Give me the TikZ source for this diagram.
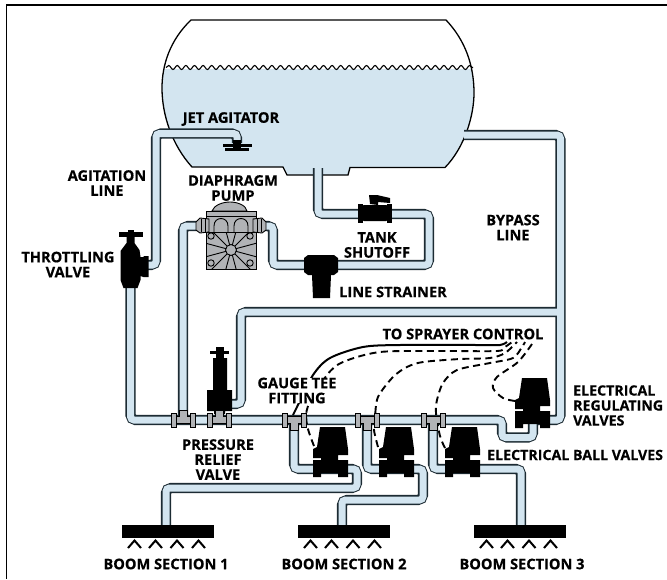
\documentclass[tikz,border=0pt]{standalone}
\usepackage{fontspec}
\setmainfont[BoldFeatures={FakeBold=0.4}]{Open Sans}
\usetikzlibrary{decorations.pathmorphing}
\definecolor{pipeblue}{HTML}{D3E5F0}
\definecolor{pipeline}{HTML}{1C2B33}
\definecolor{pumpgray}{HTML}{B1B3B6}
\tikzset{
    pipeedge/.style={draw=pipeline, line width=10.2pt, rounded corners=5pt},
    pipecore/.style={draw=pipeblue, line width=7pt, rounded corners=3.5pt},
    lab/.style={font=\fontsize{14.6}{15}\selectfont\bfseries, inner sep=0pt, align=center},
    wire/.style={line width=1.9pt, dash pattern=on 7pt off 4.5pt},
    wiresolid/.style={line width=2pt},
    boombar/.style={fill=black, minimum width=92pt, minimum height=13pt, inner sep=0pt},
    nozzle/.style={line width=2pt},
    jetagitator/.pic={
        \fill (-4,-3) rectangle (4,1);
        \fill (-14,1) rectangle (15,3.5);
        \fill (-12,5) rectangle (12,7.5);
        \fill (-4,3) rectangle (4,5);
    },
    gaugetee/.pic={
        \draw[fill=pumpgray, line width=0.8pt] (-8,-3.5) -- (8,-3.5) -- (8,3.5) -- (4,3.5) -- (4,10) -- (-4,10) -- (-4,3.5) -- (-8,3.5) -- cycle;
        \foreach \fx in {-12,7}
            \draw[fill=pumpgray, line width=0.8pt] (\fx,-7) rectangle (\fx+5,7);
    },
    ballvalve/.pic={
        \fill (-11,-42) -- (14,-42) -- (17,-20) -- (17,-14) -- (7,-14) -- (7,-9) -- (17,-9) -- (17,8) -- (7,8) -- (7,4) -- (-10,4) -- (-10,8) -- (-18,8) -- (-18,-9) -- (-10,-9) -- (-10,-11) -- (-18,-11) -- (-18,-20) -- (-14,-22) -- cycle;
    },
    throttlevalve/.pic={
        \fill (-12,-33) rectangle (12,-28);
        \fill (-3,-35) rectangle (3,-28);
        \fill (-4,-28) -- (4,-28) -- (4,-22) -- (9,-15) -- (10,-8) -- (13,-8) -- (13,-9) -- (18,-9) -- (18,12) -- (13,12) -- (10,11) -- (10,15) -- (7,23) -- (-7,23) -- (-10,15) -- (-10,-14) -- (-4,-22) -- cycle;
    },
    reliefvalve/.pic={
        \fill (-9,-53) rectangle (10,-50.5);
        \fill (-3,-57) rectangle (5,-46);
        \fill (-6,-46) -- (8,-46) -- (8,-14) -- (13,-14) -- (13,7) -- (6,7) -- (6,10) -- (-5,10) -- (-5,7) -- (-12,7) -- (-12,-14) -- (-6,-14) -- cycle;
    },
    shutoffvalve/.pic={
        \fill (-17,-10) rectangle (-12,9);
        \fill (12,-10) rectangle (17,9);
        \fill[rounded corners=2pt] (-13,-9) rectangle (13,7);
        \fill (-5,-10) -- (-6,-19) -- (2,-19) -- (15,-16) -- (15,-11) -- (3,-12) -- (3,-9) -- cycle;
    },
    linestrainer/.pic={
        \fill (-13,-10) -- (13,-10) -- (17,-7) -- (17,7) -- (13,10) -- (10,10) -- (9,33) -- (-8,33) -- (-9,10) -- (-13,10) -- (-17,7) -- (-17,-7) -- cycle;
    },
    diaphragmpump/.pic={
        \draw[fill=pumpgray, line width=0.9pt] (-19,-39) .. controls (-17,-45) and (-8,-48) .. (-1,-48) .. controls (6,-48) and (15,-45) .. (16,-39) -- cycle;
        \draw[fill=pumpgray, line width=0.9pt] (-25,-39) rectangle (25,-34);
        \draw[fill=pumpgray, line width=0.9pt] (-25,-34) rectangle (25,19);
        \begin{scope}
            \clip (-25,-18) rectangle (25,19);
            \foreach \spoke in {0,30,...,330}
                \draw[line width=0.9pt] (0,0) -- ++(\spoke+15:40pt);
        \end{scope}
        \foreach \archx in {-17,3}
            \draw[line width=0.9pt] (\archx,-18) -- (\archx,-24) .. controls (\archx,-34) and (\archx+14,-34) .. (\archx+14,-24) -- (\archx+14,-18);
        \draw[line width=0.9pt] (-25,-18) -- (25,-18);
        \foreach \boltx/\bolty in {-20/-14,19/-14,-20/13,19/13}
            \draw[fill=pumpgray, line width=0.9pt] (\boltx,\bolty) circle (3.2pt);
        \draw[fill=pumpgray, line width=0.9pt] (0,0) circle (5.5pt);
        \foreach \fitx/\fitd in {-22/-1,22/1} {
            \draw[fill=pumpgray, line width=0.9pt] (\fitx,-31) -- (\fitx+\fitd*9,-32) -- (\fitx+\fitd*13,-28) -- (\fitx+\fitd*13,-20) -- (\fitx+\fitd*9,-17) -- (\fitx,-18) -- cycle;
            \foreach \rib in {4,8}
                \draw[line width=0.8pt] (\fitx+\fitd*\rib,-31) -- (\fitx+\fitd*\rib,-18);
        }
    }
}
\begin{document}
\begin{tikzpicture}[x=1pt,y=-1pt]
    \useasboundingbox (0,0) rectangle (667,579);
    \draw[line width=1.3pt] (667,5) -- (6.5,5) -- (6.5,579);

    \begin{scope}
        \clip (191,20) .. controls (170,40) and (162,65) .. (162,88) .. controls (162,115) and (172,145) .. (192,167) -- (283,167) -- (287,175) -- (348,175) -- (350,167.5) -- (445,167.5) .. controls (465,147) and (474,115) .. (474,93) .. controls (474,65) and (465,40) .. (446,20) -- cycle;
        \fill[pipeblue] (150,69) rectangle (490,180);
    \end{scope}
    \draw[line width=1.3pt] (191,20) .. controls (170,40) and (162,65) .. (162,88) .. controls (162,115) and (172,145) .. (192,167) -- (283,167) -- (287,175) -- (348,175) -- (350,167.5) -- (445,167.5) .. controls (465,147) and (474,115) .. (474,93) .. controls (474,65) and (465,40) .. (446,20) -- cycle;
    \draw[line width=1.1pt, decorate, decoration={snake, segment length=8.6pt, amplitude=2pt}] (166,67.5) -- (473,67.5);

    \coordinate (jet) at (237,143);
    \coordinate (throttle) at (130.5,265);
    \coordinate (relief) at (219,404);
    \coordinate (pumpout) at (197,226);
    \coordinate (pumpin) at (264,226);
    \coordinate (strainer) at (321,265);
    \coordinate (shutoff) at (375,214);
    \coordinate (tankdrain) at (318,168);
    \coordinate (tankreturn) at (464,135);
    \coordinate (regvalve) at (533,420);
    \foreach \name/\x in {tee1/183,tee2/219,tee3/294,tee4/367,tee5/433}
        \coordinate (\name) at (\x,420);
    \foreach \name/\x in {ball1/331,ball2/397,ball3/463}
        \coordinate (\name) at (\x,469);
    \foreach \name/\x in {feed1/166,feed2/342,feed3/521}
        \coordinate (\name) at (\x,526);

    \foreach \pipestyle in {pipeedge,pipecore}
        \draw[\pipestyle] (jet) |- (156,133.5) |- (throttle)
            (throttle) |- (502,420) -- (502,437.5) -| (regvalve)
            (regvalve) -| (560.5,135) -- (tankreturn)
            (relief) -| (241,312) -- (560.5,312)
            (pumpout) -| (tee1)
            (pumpin) -| (273,265) -- (strainer) -| (429,214) -- (shutoff) -| (tankdrain)
            (tee3) |- (ball1) -| (357,488) -| (feed1)
            (tee4) |- (ball2) -| (423,500) -| (feed2)
            (tee5) |- (ball3) -| (feed3);

    \draw[wiresolid] plot[smooth] coordinates {(293,415) (297,407) (313,375) (330,358) (363,347) (400,345) (480,345) (500,345) (507,342)};
    \draw[wire] plot[smooth] coordinates {(314,446) (307,425) (308,406) (327,375) (343,362) (380,352) (440,351) (497,351) (505,347) (512,342)};
    \draw[wire] plot[smooth] coordinates {(378,447) (374,430) (375,417) (378,397) (393,377) (407,367) (423,362) (460,359) (490,358) (505,353) (517,342)};
    \draw[wire] plot[smooth] coordinates {(445,448) (440,436) (436,413) (437,400) (443,383) (457,370) (490,363) (513,358) (522,347) (525,342)};
    \draw[wire] plot[smooth] coordinates {(515,401) (503,398) (493,388) (497,377) (518,362) (532,344)};

    \pic at (jet) {jetagitator};
    \pic at (throttle) {throttlevalve};
    \pic at (relief) {reliefvalve};
    \pic at (231,250) {diaphragmpump};
    \pic at (strainer) {linestrainer};
    \pic at (shutoff) {shutoffvalve};
    \pic at (regvalve) {ballvalve};
    \foreach \name in {ball1,ball2,ball3}
        \pic at (\name) {ballvalve};
    \foreach \name in {tee1,tee2}
        \pic[yscale=-1] at (\name) {gaugetee};
    \foreach \name in {tee3,tee4,tee5}
        \pic at (\name) {gaugetee};

    \foreach \name/\x in {boom1/168,boom2/344,boom3/520} {
        \node[boombar] (\name) at (\x,531.5) {};
        \foreach \dx in {-33.5,-12.5,9,30.5}
            \draw[nozzle] (\x+\dx-6.5,548) -- (\x+\dx,540.5) -- (\x+\dx+6.5,548);
    }

    \node[lab] (jetlab) at (231,119) {JET AGITATOR};
    \node[lab] (agitationlab) at (107,183) {AGITATION\\LINE};
    \node[lab] (pumplab) at (233,188) {DIAPHRAGM\\PUMP};
    \node[lab] (throttlelab) at (68,264.5) {THROTTLING\\VALVE};
    \node[lab] (shutofflab) at (377,245) {TANK\\SHUTOFF};
    \node[lab, right] (strainerlab) at (339,292) {LINE STRAINER};
    \node[lab] (bypasslab) at (513,227.5) {BYPASS\\LINE};
    \node[lab] (controllab) at (463,334) {TO SPRAYER CONTROL};
    \node[lab, fill=white] (gaugelab) at (297,390.5) {GAUGE TEE\\FITTING};
    \node[lab] (relieflab) at (218,459.5) {PRESSURE\\RELIEF\\VALVE};
    \node[lab, right, align=left, font=\fontsize{14.2}{15}\selectfont\bfseries] (regulatinglab) at (573,405.5) {ELECTRICAL\\REGULATING\\VALVES};
    \node[lab, right, font=\fontsize{14.2}{15}\selectfont\bfseries] (balllab) at (487,455) {ELECTRICAL BALL VALVES};
    \node[lab] (boomlab1) at (166,564) {BOOM SECTION 1};
    \node[lab] (boomlab2) at (344,564) {BOOM SECTION 2};
    \node[lab] (boomlab3) at (522,564) {BOOM SECTION 3};
\end{tikzpicture}
\end{document}
